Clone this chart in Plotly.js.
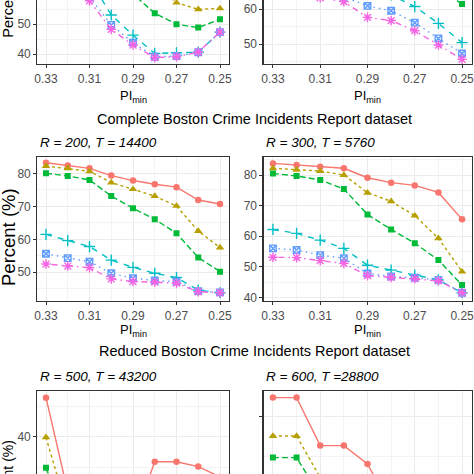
<!DOCTYPE html>
<html>
<head>
<meta charset="utf-8">
<script src="https://cdn.plot.ly/plotly-2.35.2.min.js"></script>
<style>
html,body{margin:0;padding:0;background:#fff;overflow:hidden;width:474px;height:474px;}
#chart{position:absolute;left:0;top:-150px;width:490px;height:800px;}
</style>
</head>
<body>
<div id="chart"></div>
<script>
// x values (PI_min) shared by every panel
const PI_MIN = [0.33, 0.32, 0.31, 0.30, 0.29, 0.28, 0.27, 0.26, 0.25];
const X_TICK_VALS = [0.33, 0.31, 0.29, 0.27, 0.25];
const X_TICK_TEXT = ['0.33', '0.31', '0.29', '0.27', '0.25'];
const SERIES = ['Series 1', 'Series 2', 'Series 3', 'Series 4', 'Series 5', 'Series 6'];

// panel values: one row per series (red, olive, green, cyan, blue, magenta)
// top row (only lower part visible)
const topLeft = [
  [83, 82.5, 81.5, 80, 78, 76, 72, 68, 64],
  [82, 81, 80, 77, 72, 64, 57.1, 54.9, 55.2],
  [80, 79, 77, 70, 60, 53.6, 49.9, 48.8, 51.6],
  [72, 68, 65, 53, 46.3, 40.2, 40.4, 40.6, 47.3],
  [70, 66, 59, 49.7, 43.8, 39.1, 39.3, 40.6, 47.3],
  [68, 64, 57.7, 48.2, 43, 38.8, 39.1, 40.6, 47.3]
];
const topRight = [
  [85, 84.5, 84, 83, 81, 79, 77, 75, 71],
  [83, 82.5, 82, 80, 77, 74, 71, 68, 64],
  [81, 80.5, 80, 78, 75, 72, 69, 66, 61.4],
  [73, 72, 71, 69, 67, 64, 60.7, 55.9, 50.4],
  [68, 67.5, 66, 63.5, 60.9, 59.5, 56.1, 51.6, 47.3],
  [66, 65, 63.2, 62.1, 57.6, 56.7, 53.8, 49.7, 45.6]
];
// Complete dataset: R = 200, T = 14400
const completeR200 = [
  [83.2, 82.4, 81.5, 79.3, 77.8, 76.7, 75.8, 71.9, 70.7],
  [82.2, 81.5, 80.6, 77.2, 75.2, 73.1, 70.1, 62.5, 57.5],
  [80.0, 79.2, 78.0, 73.1, 69.4, 66.1, 61.8, 54.5, 50.2],
  [61.5, 59.6, 57.8, 53.7, 51.5, 49.7, 48.4, 44.6, 43.8],
  [55.6, 54.3, 53.2, 49.7, 48.2, 47.5, 47.2, 44.3, 43.9],
  [52.5, 51.9, 51.4, 48.0, 47.2, 47.0, 46.7, 44.1, 43.8]
];
// Complete dataset: R = 300, T = 5760
const completeR300 = [
  [83.8, 83.3, 82.7, 82.2, 79.1, 77.5, 76.6, 74.3, 65.5],
  [82.2, 81.7, 81.3, 80.0, 74.2, 71.4, 66.7, 59.3, 48.4],
  [80.5, 79.7, 78.4, 75.4, 67.1, 62.2, 57.7, 52.2, 44.0],
  [62.2, 60.9, 58.7, 56.0, 50.5, 48.9, 47.3, 45.7, 41.5],
  [56.0, 55.5, 53.8, 52.8, 47.8, 46.8, 46.4, 45.7, 41.5],
  [53.1, 53.0, 52.0, 51.1, 47.1, 46.5, 46.1, 45.4, 41.5]
];
// Reduced dataset: R = 500, T = 43200 (only upper part visible)
const reducedR500 = [
  [46.4, 31, 27, 26, 26, 35.9, 35.9, 35.1, 33.4],
  [39.9, 27.7, 26, 25, 25, 27, 28, 28, 27],
  [34.9, 26, 25, 24.5, 24.5, 25.5, 26, 26, 25.5],
  [32, 26, 25, 24.5, 25, 26, 27, 26.5, 26],
  [31, 25.5, 24.8, 24.3, 24.8, 25.5, 26.5, 26, 25.5],
  [30, 25, 24.5, 24.2, 24.5, 25.2, 26, 25.8, 25.2]
];
// Reduced dataset: R = 600, T = 28800 (only upper part visible)
const reducedR600 = [
  [62.3, 62.3, 56.3, 56.3, 54.0, 48.5, 47, 46.5, 46],
  [57.5, 57.5, 52.3, 50, 48, 47, 46.5, 46, 45.5],
  [54.8, 54.8, 50.0, 48, 47, 46, 45.8, 45.5, 45.3],
  [51, 50, 48.5, 47.5, 47, 46.5, 46.2, 46, 45.8],
  [50, 49, 48, 47.2, 46.8, 46.3, 46, 45.8, 45.6],
  [49.5, 48.5, 47.5, 47, 46.5, 46.2, 45.9, 45.7, 45.5]
];

const PANELS = [topLeft, topRight, completeR200, completeR300, reducedR500, reducedR600];

// styles
const COLORS = ['#F8766D', '#B79F00', '#00BA38', '#00BFC4', '#619CFF', '#F564E3'];
const SYMBOLS = ['circle', 'triangle-up', 'square', 'cross-thin-open', 'square-x-open', 'asterisk-open'];
const MSIZES = [6.5, 7.5, 6, 8, 6.5, 8];
const DASHES = ['solid', '3px,3px', '6px,3px', '6px,6px', '1.5px,4px', '1.5px,4px,6px,4px'];

// geometry (div is 800 px tall, shifted up by 150 px; wider than the window)
const H = 800, W = 490, OFF = 150;
const fy = (pageY) => 1 - (pageY + OFF) / H;
const fx = (pageX) => pageX / W;
const COLS = [[37.3, 228.7], [263.5, 471.5]];
const ROWS = [[-80, 64], [157, 301], [391, 535]];
const YRANGES = [[36.67, 84.67], [44.29, 85.43], [41.3, 84.94], [38.8, 85.89], [23.89, 47.49], [45.125, 63.125]];

const traces = [];
PANELS.forEach((panel, p) => {
  const ax = p === 0 ? '' : String(p + 1);
  panel.forEach((vals, s) => {
    traces.push({
      type: 'scatter', mode: 'lines+markers', name: SERIES[s],
      x: PI_MIN, y: vals, xaxis: 'x' + ax, yaxis: 'y' + ax,
      line: {color: COLORS[s], width: 1.4, dash: DASHES[s]},
      marker: {color: COLORS[s], symbol: SYMBOLS[s], size: MSIZES[s],
               line: {color: COLORS[s], width: (s >= 3 ? 1.4 : 0)}},
      showlegend: false, hoverinfo: 'x+y'
    });
  });
});

const layout = {
  width: W, height: H, autosize: false,
  margin: {l: 0, r: 0, t: 0, b: 0},
  paper_bgcolor: '#ffffff', plot_bgcolor: '#ffffff',
  font: {family: 'Liberation Sans, Arial, sans-serif', size: 12, color: '#4D4D4D'},
  showlegend: false,
  annotations: []
};

const axisCommon = {
  showline: true, mirror: true, linecolor: '#333333', linewidth: 1.1,
  ticks: 'outside', ticklen: 3, tickwidth: 1, tickcolor: '#333333',
  showgrid: true, gridcolor: '#EBEBEB', gridwidth: 1, zeroline: false,
  tickfont: {family: 'Liberation Sans, Arial, sans-serif', size: 12, color: '#4D4D4D'}
};

PANELS.forEach((panel, p) => {
  const ax = p === 0 ? '' : String(p + 1);
  const col = COLS[p % 2], row = ROWS[Math.floor(p / 2)];
  layout['xaxis' + ax] = Object.assign({}, axisCommon, {
    anchor: 'y' + ax, domain: [fx(col[0]), fx(col[1])],
    range: [0.334, 0.246], tickmode: 'array', tickvals: X_TICK_VALS, ticktext: X_TICK_TEXT,
    minor: {tickmode: 'linear', tick0: 0.25, dtick: 0.01, showgrid: true, gridcolor: '#EBEBEB', gridwidth: 0.6, ticks: ''}
  });
  layout['yaxis' + ax] = Object.assign({}, axisCommon, {
    anchor: 'x' + ax, domain: [fy(row[1]), fy(row[0])],
    range: YRANGES[p], tickmode: 'linear', tick0: 0, dtick: 10,
    showticklabels: p !== 5,
    minor: {tickmode: 'linear', tick0: 0, dtick: 5, showgrid: true, gridcolor: '#EBEBEB', gridwidth: 0.6, ticks: ''}
  });
});

function ann(text, x, y, opts) {
  layout.annotations.push(Object.assign({
    text: text, x: x, y: y, xref: 'paper', yref: 'paper',
    showarrow: false, xanchor: 'center', yanchor: 'middle',
    font: {family: 'Liberation Sans, Arial, sans-serif', size: 13, color: '#000000'}
  }, opts || {}));
}

// section titles
ann('Complete Boston Crime Incidents Report dataset', fx(254), fy(118.5), {font: {family: 'Liberation Sans, Arial, sans-serif', size: 14.5, color: '#000'}});
ann('Reduced Boston Crime Incidents Report dataset', fx(254.5), fy(350.5), {font: {family: 'Liberation Sans, Arial, sans-serif', size: 14.5, color: '#000'}});
// panel titles
const PANEL_TITLES = ['R = 200, T = 14400', 'R = 300, T = 5760', 'R = 500, T = 43200', 'R = 600, T =28800'];
const ptPos = [[38, 142], [264, 142], [38, 376.5], [264, 376.5]];
PANEL_TITLES.forEach((t, i) => {
  ann('<i>' + t + '</i>', fx(ptPos[i][0]), fy(ptPos[i][1]), {xanchor: 'left', font: {family: 'Liberation Sans, Arial, sans-serif', size: 13.5, color: '#000'}});
});
// x-axis titles
[[133, 96], [367.5, 96], [133, 330], [367.5, 330]].forEach(pos => {
  ann('PI<sub>min</sub>', fx(pos[0]), fy(pos[1]), {font: {family: 'Liberation Sans, Arial, sans-serif', size: 13, color: '#000'}});
});
// y-axis titles (centre y, font size) per row
[[-0.3, 14.5], [237, 18.5], [477, 14]].forEach(([cy, fs]) => {
  ann('Percent (%)', fx(8), fy(cy), {textangle: -90, font: {family: 'Liberation Sans, Arial, sans-serif', size: fs, color: '#000'}});
});

Plotly.newPlot('chart', traces, layout, {displayModeBar: false, staticPlot: true});
</script>
</body>
</html>
